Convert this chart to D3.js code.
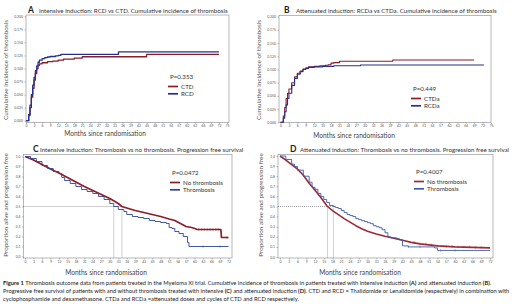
<!DOCTYPE html>
<html>
<head>
<meta charset="utf-8">
<script src="https://cdn.jsdelivr.net/npm/d3@7"></script>
<style>
body{margin:0;background:#fff;}
svg text{font-family:Lato,"Open Sans",sans-serif;}
</style>
</head>
<body>
<svg id="fig" width="520" height="307"></svg>
<script>
// ---- data ----
var ciTicks = [0, 0.025, 0.05, 0.075, 0.1, 0.125, 0.15, 0.175, 0.2];
var pfsTicks = [0, 0.1, 0.2, 0.3, 0.4, 0.5, 0.6, 0.7, 0.8, 0.9, 1.0];
var monthTicks75 = [0,3,6,9,12,15,18,21,24,27,30,33,36,39,42,45,48,51,54,57,60,63,66,69,72,75];
var monthTicks72 = [0,3,6,9,12,15,18,21,24,27,30,33,36,39,42,45,48,51,54,57,60,63,66,69,72];

// A: intensive induction, cumulative incidence [month, value]
var aCTD = [[0,0],[0.5,0],[1,0.01],[1.5,0.025],[2,0.045],[2.5,0.062],[3,0.078],[3.5,0.09],[4,0.1],[4.5,0.106],[5,0.109],[6,0.111],[8,0.113],[10,0.114],[12,0.116],[14,0.118],[18,0.12],[21,0.1225],[44.5,0.1225],[45,0.127],[72,0.127]];
var aRCD = [[0,0],[0.5,0],[1,0.012],[1.5,0.03],[2,0.05],[2.5,0.068],[3,0.083],[3.5,0.096],[4,0.105],[4.5,0.112],[5,0.116],[6,0.119],[7,0.121],[8,0.122],[9,0.123],[11,0.124],[12,0.125],[13,0.127],[34,0.127],[34.5,0.132],[72,0.132]];
// B: attenuated induction
var bCTDa = [[0,0],[0.5,0],[1,0.012],[1.5,0.028],[2,0.045],[2.5,0.055],[3,0.063],[4,0.075],[5,0.086],[6,0.093],[7,0.097],[8,0.101],[9,0.103],[10,0.105],[12,0.106],[14,0.107],[16,0.108],[17,0.109],[18,0.112],[19,0.113],[21,0.1155],[39.5,0.1155],[40,0.118],[69,0.118]];
var bRCDa = [[0,0],[0.5,0],[1,0.008],[1.5,0.02],[2,0.033],[2.5,0.045],[3,0.055],[4,0.07],[5,0.083],[6,0.091],[7,0.096],[8,0.1],[9,0.102],[10,0.104],[12,0.105],[15,0.106],[19,0.107],[28,0.107],[28.5,0.1085],[72.5,0.1085]];
// C: intensive, progression free survival
var cNoThr = [[0,1],[3,0.965],[6,0.92],[9,0.875],[12,0.835],[15,0.79],[18,0.745],[21,0.7],[24,0.66],[27,0.62],[30,0.58],[33,0.53],[34.3,0.5],[36,0.485],[39,0.46],[42,0.44],[45,0.42],[48,0.4],[51,0.375],[53,0.36],[55,0.33],[57,0.3],[59,0.29],[61,0.27],[69.3,0.27],[69.5,0.19],[72,0.19]];
var cThr = [[0,1],[2,0.98],[4,0.95],[6,0.91],[8,0.88],[10,0.85],[12,0.83],[13,0.79],[14,0.76],[16,0.73],[18,0.7],[20,0.67],[22,0.65],[24,0.63],[26,0.6],[28,0.57],[30,0.53],[31.4,0.5],[33,0.47],[35,0.45],[36,0.42],[38,0.4],[40,0.39],[42,0.38],[44,0.36],[46,0.35],[48,0.34],[50,0.33],[51,0.29],[52,0.28],[53,0.25],[54.5,0.23],[56,0.2],[57.5,0.14],[58,0.1],[72,0.1]];
var cNoThrCens = [61.5,62.5,63.5,64.5,65.5,66.5,67.5,68.5,71.5];
var cThrCens = [63,69];
var cMedians = [31.4, 34.3];
// D: attenuated, progression free survival
var dNoThr = [[0,1],[2,0.96],[4,0.915],[6,0.87],[8,0.81],[10,0.73],[12,0.66],[14,0.59],[16,0.51],[16.3,0.5],[18,0.46],[20,0.42],[22,0.38],[24,0.345],[26,0.31],[28,0.28],[30,0.255],[33,0.228],[36,0.205],[39,0.185],[42,0.165],[45,0.145],[48,0.13],[51,0.12],[54,0.11],[57,0.105],[60,0.1],[66,0.095],[72,0.09]];
var dThr = [[0,1],[2,0.965],[4,0.92],[5,0.895],[6,0.86],[8,0.8],[10,0.74],[11,0.69],[12,0.67],[13,0.63],[14,0.6],[15,0.57],[16,0.54],[17,0.51],[18.3,0.5],[19,0.49],[20,0.48],[21,0.46],[22,0.44],[23,0.42],[24,0.41],[25,0.4],[26,0.38],[27,0.37],[28,0.36],[29,0.35],[30,0.34],[31,0.33],[32,0.31],[33,0.3],[34,0.29],[35,0.27],[36,0.24],[37,0.2],[38,0.19],[40,0.18],[41,0.17],[42,0.11],[44,0.1],[50,0.1],[53,0.09],[54,0.065],[72,0.065]];
var dNoThrCens = [46,48,50,52,54,57,59,61,63,65,67,69];
var dThrCens = [44,48,55,60];
var dMedians = [16.3, 18.3];

var red = "#8a1c25", blue = "#26308f";
var svg = d3.select("#fig");

function drawPanel(p) {
  var x = d3.scaleLinear().domain([0, p.xMax]).range([p.x0, p.x1]);
  var y = d3.scaleLinear().domain([0, p.yMax]).range([p.y0, p.y1]);
  var g = svg.append("g");
  g.append("rect")
    .attr("x", p.box[0]).attr("y", p.box[1])
    .attr("width", p.box[2] - p.box[0]).attr("height", p.box[3] - p.box[1])
    .attr("fill", "none").attr("stroke", "#888").attr("stroke-width", 0.6);
  var xa = g.append("g").attr("transform", "translate(0," + p.box[3] + ")")
    .call(d3.axisBottom(x).tickValues(p.xTicks).tickSize(1.5).tickPadding(1).tickFormat(d3.format("d")));
  var ya = g.append("g").attr("transform", "translate(" + p.box[0] + ",0)")
    .call(d3.axisLeft(y).tickValues(p.yTicks).tickSize(1.5).tickPadding(1.5).tickFormat(d3.format(p.yFmt)));
  [xa, ya].forEach(function(a) {
    a.attr("font-size", 3.4).attr("font-family", "Lato, sans-serif");
    a.select(".domain").remove();
    a.selectAll("line").attr("stroke", "#777").attr("stroke-width", 0.5);
    a.selectAll("text").attr("fill", "#555");
  });
  // titles
  g.append("text").attr("x", p.letterX).attr("y", p.titleY).attr("font-size", 8.5).attr("font-weight", "bold").attr("fill", "#222").text(p.letter);
  g.append("text").attr("x", p.titleX).attr("y", p.titleY).attr("font-size", 6.2).attr("fill", "#333").text(p.title);
  g.append("text").attr("x", p.xTitle[0]).attr("y", p.xTitle[1]).attr("font-size", 6.6).attr("fill", "#444").attr("text-anchor", "middle").text("Months since randomisation");
  g.append("text").attr("transform", "translate(" + p.yTitle[0] + "," + p.yTitle[1] + ") rotate(-90)")
    .attr("font-size", 6.4).attr("fill", "#555").attr("text-anchor", "middle").text(p.yLabel);

  // dotted median guides
  if (p.medians) {
    var y5 = y(0.5);
    g.append("line").attr("x1", p.box[0]).attr("x2", x(d3.max(p.medians))).attr("y1", y5).attr("y2", y5)
      .attr("stroke", "#444").attr("stroke-width", 0.5).attr("stroke-dasharray", "1,1");
    p.medians.forEach(function(m) {
      g.append("line").attr("x1", x(m)).attr("x2", x(m)).attr("y1", y5).attr("y2", p.box[3])
        .attr("stroke", "#444").attr("stroke-width", 0.5).attr("stroke-dasharray", "1,1");
    });
  }

  p.series.forEach(function(s) {
    var line = d3.line().x(function(d) { return x(d[0]); }).y(function(d) { return y(d[1]); })
      .curve(s.step ? d3.curveStepAfter : d3.curveLinear);
    g.append("path").datum(s.data).attr("d", line)
      .attr("fill", "none").attr("stroke", s.color).attr("stroke-width", s.width).attr("stroke-linejoin", "round");
    if (s.cens) {
      var bis = d3.bisector(function(d) { return d[0]; }).right;
      s.cens.forEach(function(t) {
        var v = s.data[Math.max(0, bis(s.data, t) - 1)][1];
        g.append("line").attr("x1", x(t)).attr("x2", x(t)).attr("y1", y(v) - 1.2).attr("y2", y(v) + 1.2)
          .attr("stroke", s.color).attr("stroke-width", 0.5);
      });
    }
  });

  // legend
  var L = p.legend;
  g.append("text").attr("x", L.x + 2).attr("y", L.y).attr("font-size", 6.2).attr("fill", "#333").text(L.p);
  p.series.forEach(function(s, i) {
    var ly = L.y + 7.5 + i * 7.3;
    g.append("line").attr("x1", L.x).attr("x2", L.x + 10).attr("y1", ly).attr("y2", ly)
      .attr("stroke", s.color).attr("stroke-width", 1.7);
    g.append("text").attr("x", L.x + 13).attr("y", ly + 2).attr("font-size", 6.2).attr("fill", "#333").text(s.name);
  });
}

drawPanel({
  letter: "A", letterX: 28, titleX: 39, titleY: 12.5,
  title: "Intensive induction: RCD vs CTD. Cumulative incidence of thrombosis",
  box: [26, 15, 229, 122.5], x0: 26, x1: 227, xMax: 75, y0: 120.7, y1: 16.3, yMax: 0.2,
  xTicks: monthTicks75, yTicks: ciTicks, yFmt: ".3f",
  xTitle: [105, 135.5], yTitle: [7.5, 70], yLabel: "Cumulative incidence of thrombosis",
  legend: { x: 168, y: 79, p: "P=0.353" },
  series: [
    { name: "CTD", data: aCTD, color: red, width: 1.3, step: true },
    { name: "RCD", data: aRCD, color: blue, width: 1.3, step: true }
  ]
});

drawPanel({
  letter: "B", letterX: 284, titleX: 296, titleY: 12.8,
  title: "Attenuated induction: RCDa vs CTDa. Cumulative incidence of thrombosis",
  box: [279, 15.5, 491, 122.5], x0: 280.5, x1: 491, xMax: 75, y0: 122.3, y1: 16.7, yMax: 0.2,
  xTicks: monthTicks75, yTicks: ciTicks, yFmt: ".3f",
  xTitle: [354, 137.5], yTitle: [261, 70], yLabel: "Cumulative incidence of thrombosis",
  legend: { x: 411, y: 91, p: "P=0.449" },
  series: [
    { name: "CTDa", data: bCTDa, color: red, width: 1.1, step: true },
    { name: "RCDa", data: bRCDa, color: blue, width: 1.1, step: true }
  ]
});

drawPanel({
  letter: "C", letterX: 33, titleX: 40, titleY: 152,
  title: "Intensive induction: Thrombosis vs no thrombosis. Progression free survival",
  box: [23.5, 154.5, 232, 258], x0: 25, x1: 228.5, xMax: 72, y0: 256.5, y1: 156.5, yMax: 1,
  xTicks: monthTicks72, yTicks: pfsTicks, yFmt: ".1f",
  xTitle: [106, 275], yTitle: [7.5, 205], yLabel: "Proportion alive and progression free",
  medians: cMedians,
  legend: { x: 170, y: 175, p: "P=0.0472" },
  series: [
    { name: "No thrombosis", data: cNoThr, color: "#8c1d2a", width: 1.7, step: false, cens: cNoThrCens },
    { name: "Thrombosis", data: cThr, color: "#2f4596", width: 0.9, step: true, cens: cThrCens }
  ]
});

drawPanel({
  letter: "D", letterX: 290, titleX: 300, titleY: 152,
  title: "Attenuated induction: Thrombosis vs no thrombosis. Progression free survival",
  box: [278, 154.5, 493, 258], x0: 280, x1: 490, xMax: 72, y0: 257, y1: 156, yMax: 1,
  xTicks: monthTicks72, yTicks: pfsTicks, yFmt: ".1f",
  xTitle: [360, 275], yTitle: [263, 205], yLabel: "Proportion alive and progression free",
  medians: dMedians,
  legend: { x: 414, y: 174, p: "P=0.4007" },
  series: [
    { name: "No thrombosis", data: dNoThr, color: "#9e2a36", width: 1.6, step: false, cens: dNoThrCens },
    { name: "Thrombosis", data: dThr, color: "#3d5aa6", width: 0.9, step: true, cens: dThrCens }
  ]
});

// caption, font size fitted so the widest line spans the figure width
var captionLines = [
  [["Figure 1", true], [" Thrombosis outcome data from patients treated in the Myeloma XI trial. Cumulative incidence of thrombosis in patients treated with intensive induction ", false], ["(A)", true], [" and attenuated induction ", false], ["(B)", true], [".", false]],
  [["Progressive free survival of patients with and without thrombosis treated with intensive ", false], ["(C)", true], [" and attenuated induction ", false], ["(D)", true], [". CTD and RCD = Thalidomide or Lenalidomide (respectively) in combination with", false]],
  [["cyclophosphamide and dexamethasone. CTDa and RCDa =attenuated doses and cycles of CTD and RCD respectively.", false]]
];
var capY = [285, 293, 301];
var capTexts = captionLines.map(function(segs, i) {
  var t = svg.append("text").attr("x", 3).attr("y", capY[i]).attr("font-size", 6).attr("fill", "#222");
  segs.forEach(function(s) {
    t.append("tspan").attr("font-weight", s[1] ? "bold" : "normal").text(s[0]);
  });
  return t;
});
var widest = d3.max(capTexts, function(t) { return t.node().getComputedTextLength(); });
var capSize = Math.min(6.4, 6 * 508 / widest);
capTexts.forEach(function(t) { t.attr("font-size", capSize); });
</script>
</body>
</html>
